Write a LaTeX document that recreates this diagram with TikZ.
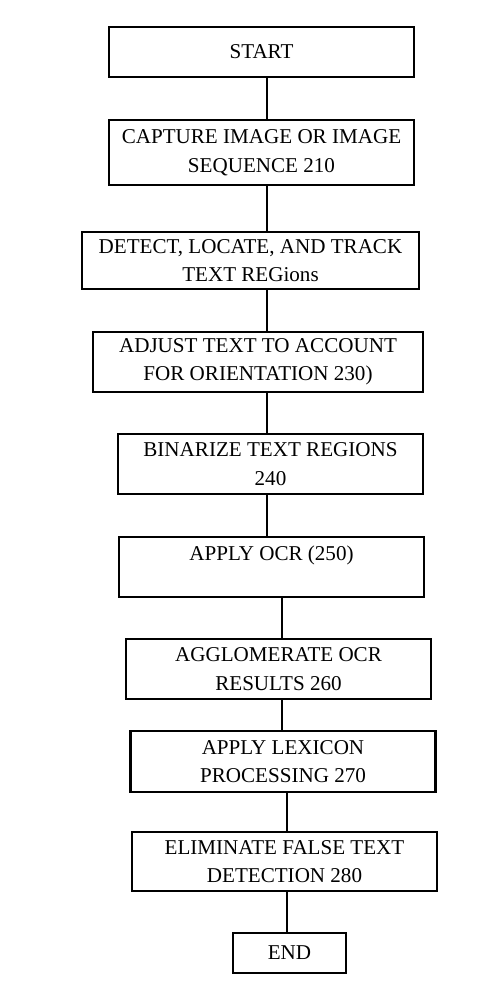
\documentclass[tikz,border=0pt]{standalone}
\usepackage{fontspec}
\setmainfont{Liberation Serif}
\usepackage{tikz}
\usetikzlibrary{positioning}
\tikzset{
  stepbox/.style = {draw=black, line width=1.3pt, align=center, inner sep=1pt,
                    minimum width=6.1cm, minimum height=1.2cm,
                    font=\fontsize{12}{16.2}\selectfont},
  flow/.style    = {black, line width=1pt},
}

\begin{document}
\begin{tikzpicture}
    \useasboundingbox (0,0) rectangle (9.94,-19.68);
    % boxes of the flow
    \node[stepbox, minimum height=1.0cm] (start) at (5.23,-1.04) {START};
    \node[stepbox, minimum height=1.3cm] (capture) at (5.23,-3.05)
      {CAPTURE IMAGE OR IMAGE\\SEQUENCE 210};
    \node[stepbox, minimum width=6.74cm, minimum height=1.14cm] (detect) at (5.01,-5.21)
      {DETECT, LOCATE, AND TRACK\\TEXT REGions};
    \node[stepbox, minimum width=6.6cm] (adjust) at (5.16,-7.24)
      {ADJUST TEXT TO ACCOUNT\\FOR ORIENTATION 230)};
    \node[stepbox] (binarize) at (5.41,-9.28)
      {BINARIZE TEXT REGIONS\\240};
    \node[stepbox] (ocr) at (5.43,-11.34)
      {APPLY OCR (250)\\\mbox{}};
    \node[stepbox] (agglom) at (5.57,-13.38)
      {AGGLOMERATE OCR\\RESULTS 260};
    \node[stepbox, minimum height=1.22cm] (lexicon) at (5.66,-15.23)
      {APPLY LEXICON\\PROCESSING 270};
    \node[stepbox, minimum height=1.18cm] (eliminate) at (5.69,-17.23)
      {ELIMINATE FALSE TEXT\\DETECTION 280};
    \node[stepbox, minimum width=2.26cm, minimum height=0.8cm] (end) at (5.79,-19.06) {END};
    % trunk lines
    \coordinate (trunkA) at (5.34,0);
    \coordinate (trunkB) at (5.64,0);
    \coordinate (trunkC) at (5.74,0);
    \draw[flow] (start.south -| trunkA) -- (capture.north -| trunkA);
    \draw[flow] (capture.south -| trunkA) -- (detect.north -| trunkA);
    \draw[flow] (detect.south -| trunkA) -- (adjust.north -| trunkA);
    \draw[flow] (adjust.south -| trunkA) -- (binarize.north -| trunkA);
    \draw[flow] (binarize.south -| trunkA) -- (ocr.north -| trunkA);
    \draw[flow] (ocr.south -| trunkB) -- (agglom.north -| trunkB);
    \draw[flow] (agglom.south -| trunkB) -- (lexicon.north -| trunkB);
    \draw[flow] (lexicon.south -| trunkC) -- (eliminate.north -| trunkC);
    \draw[flow] (eliminate.south -| trunkC) -- (end.north -| trunkC);
\end{tikzpicture}
\end{document}
